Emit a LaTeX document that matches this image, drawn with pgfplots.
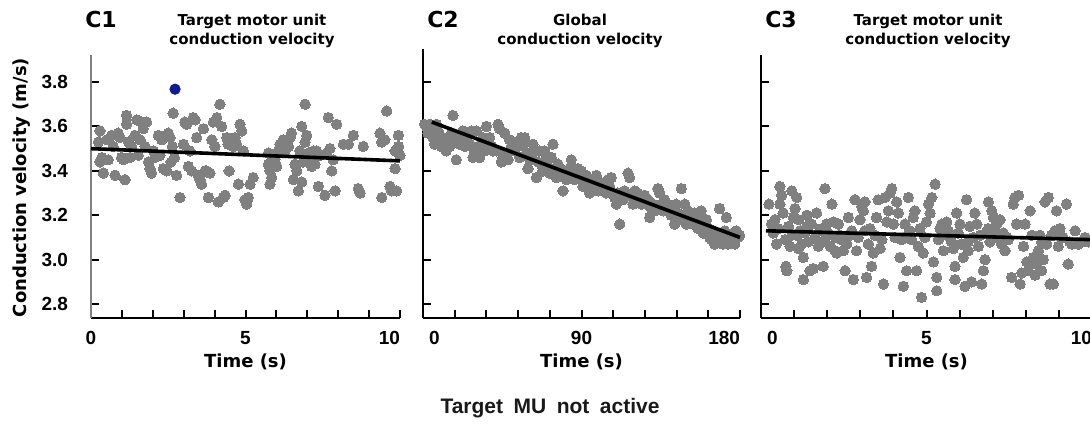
\documentclass[border=0pt]{standalone}
\usepackage{fontspec}
\setmainfont{DejaVu Sans}
\newfontfamily\libsans{Liberation Sans}
\usepackage{pgfplots}
\pgfplotsset{compat=1.18}
\definecolor{dotgray}{RGB}{128,128,128}
\definecolor{dotblue}{RGB}{16,28,140}
\pgfplotsset{
  cvpanel/.style={
    scale only axis,
    clip=false, clip marker paths=true,
    axis lines=left,
    axis line style={-, line width=1pt, black},
    tick align=inside,
    major tick length=4pt, minor tick length=4pt,
    tick style={line width=1pt, black},
    ymin=2.737,
    ytick={2.8,3.0,3.2,3.4,3.6,3.8},
    /pgf/number format/assume math mode=true,
    ticklabel style={font=\libsans\bfseries\fontsize{9.5}{11}\selectfont},
    xticklabel style={yshift=-3pt},
    yticklabel style={xshift=-8pt, /pgf/number format/fixed, /pgf/number format/fixed zerofill, /pgf/number format/precision=1},
    xlabel style={font=\bfseries\fontsize{9}{11}\selectfont, at={(axis description cs:0.5,0)}, anchor=center, yshift=-22pt},
  },
  dots/.style={only marks, mark=*, mark size=2.6pt, mark options={fill=dotgray, draw=dotgray, line width=0pt}},
  fitline/.style={black, line width=1.8pt, no marks},
}
\begin{document}
\begin{tikzpicture}
% C1: target MU, 0-10 s
\begin{axis}[cvpanel, at={(45.5pt,-159pt)}, anchor=south west,
  width=154.5pt, height=131.5pt, xmin=0, xmax=10, ymax=3.922,
  xtick={0,5,10}, xticklabels={0,5,\llap{10}}, minor x tick num=4, xlabel={Time (s)},
  y axis line style={draw=gray}]
\addplot[dots] coordinates {
(0.29,3.58) (0.24,3.53) (0.35,3.46) (0.29,3.44) (0.40,3.39) (0.56,3.45) (0.51,3.54) (0.67,3.56)
(0.72,3.51) (0.78,3.38) (0.88,3.57) (0.94,3.55) (0.99,3.46) (1.05,3.45) (1.10,3.36) (1.15,3.65)
(1.15,3.61) (1.21,3.53) (1.26,3.46) (1.32,3.51) (1.42,3.56) (1.48,3.63) (1.53,3.47) (1.59,3.54)
(1.64,3.62) (1.69,3.59) (1.75,3.51) (1.80,3.62) (1.86,3.44) (1.91,3.41) (1.96,3.39) (2.02,3.49)
(2.07,3.46) (2.18,3.56) (2.23,3.47) (2.29,3.54) (2.34,3.41) (2.45,3.40) (2.50,3.57) (2.56,3.55)
(2.59,3.44) (2.63,3.51) (2.66,3.66) (2.70,3.46) (2.77,3.38) (2.88,3.28) (2.99,3.52) (3.04,3.62)
(3.10,3.61) (3.15,3.42) (3.20,3.49) (3.26,3.40) (3.31,3.64) (3.37,3.63) (3.42,3.55) (3.47,3.38)
(3.53,3.36) (3.58,3.34) (3.64,3.59) (3.69,3.40) (3.74,3.40) (3.80,3.28) (3.85,3.39) (3.91,3.54)
(3.96,3.62) (4.01,3.51) (4.07,3.64) (4.12,3.26) (4.17,3.70) (4.23,3.60) (4.28,3.28) (4.34,3.29)
(4.39,3.55) (4.44,3.52) (4.47,3.40) (4.55,3.53) (4.61,3.51) (4.66,3.55) (4.71,3.52) (4.77,3.34)
(4.82,3.61) (4.88,3.58) (4.93,3.49) (4.98,3.27) (5.04,3.25) (5.09,3.28) (5.15,3.34) (5.25,3.37)
(5.74,3.48) (5.74,3.43) (5.79,3.40) (5.79,3.34) (5.85,3.37) (5.95,3.45) (6.01,3.42) (6.06,3.49)
(6.12,3.52) (6.17,3.50) (6.22,3.54) (6.28,3.49) (6.33,3.52) (6.39,3.51) (6.44,3.55) (6.49,3.57)
(6.55,3.36) (6.60,3.43) (6.66,3.40) (6.71,3.31) (6.76,3.49) (6.82,3.60) (6.82,3.35) (6.87,3.44)
(6.93,3.70) (6.93,3.53) (6.98,3.56) (7.03,3.48) (7.09,3.46) (7.14,3.42) (7.20,3.49) (7.25,3.43)
(7.30,3.49) (7.36,3.33) (7.41,3.47) (7.57,3.29) (7.63,3.48) (7.68,3.64) (7.73,3.50) (7.79,3.40)
(7.84,3.45) (7.90,3.31) (7.95,3.61) (8.17,3.52) (8.33,3.52) (8.49,3.56) (8.65,3.32) (8.71,3.30)
(8.81,3.51) (9.35,3.57) (9.41,3.53) (9.41,3.28) (9.51,3.54) (9.57,3.67) (9.68,3.33) (9.73,3.31)
(9.84,3.49) (9.84,3.41) (9.89,3.31) (9.95,3.56) (9.95,3.51) (10.00,3.47)
};
\addplot[only marks, mark=*, mark size=2.6pt, mark options={fill=dotblue, draw=dotblue}] coordinates {(2.72,3.768)};
\addplot[fitline] coordinates {(0,3.50) (10,3.445)};
\end{axis}
% C2: global, 0-180 s
\begin{axis}[cvpanel, at={(211.5pt,-159pt)}, anchor=south west,
  width=158.5pt, height=134.5pt, xmin=0, xmax=180, ymax=3.949,
  xtick={0,90,180}, xticklabels={\rlap{\hspace{3pt}0},90,\llap{180}}, minor x tick num=4,
  yticklabels={}, xlabel={Time (s)}]
\addplot[dots] coordinates {
(0.9,3.61) (1.9,3.60) (2.8,3.57) (3.8,3.61) (4.7,3.58) (5.7,3.55) (6.6,3.52) (7.6,3.61)
(8.5,3.58) (9.5,3.53) (10.4,3.51) (11.4,3.55) (12.3,3.52) (13.2,3.49) (14.2,3.55) (15.1,3.51)
(16.1,3.57) (17.0,3.65) (18.0,3.53) (18.9,3.45) (19.9,3.56) (20.8,3.52) (21.8,3.54) (22.7,3.58)
(23.7,3.51) (24.6,3.56) (25.6,3.57) (26.5,3.52) (27.4,3.58) (28.4,3.46) (29.3,3.49) (30.3,3.58)
(31.2,3.51) (32.2,3.46) (33.1,3.52) (34.1,3.55) (35.0,3.49) (36.0,3.60) (36.9,3.54) (37.9,3.55)
(38.8,3.51) (39.7,3.49) (41.6,3.49) (42.6,3.61) (43.5,3.59) (44.5,3.44) (45.4,3.46) (46.4,3.57)
(47.3,3.48) (48.3,3.45) (49.2,3.54) (50.2,3.51) (51.1,3.52) (52.0,3.49) (53.0,3.53) (53.9,3.51)
(54.9,3.46) (55.8,3.55) (56.8,3.52) (57.7,3.55) (58.7,3.48) (59.6,3.41) (60.6,3.45) (61.5,3.47)
(62.5,3.52) (63.4,3.49) (64.4,3.37) (65.3,3.44) (66.2,3.49) (67.2,3.43) (68.1,3.40) (69.1,3.49)
(70.0,3.46) (71.0,3.42) (71.9,3.39) (72.9,3.46) (73.8,3.52) (74.8,3.40) (75.7,3.37) (76.7,3.43)
(77.6,3.41) (78.5,3.39) (79.5,3.31) (80.4,3.40) (81.4,3.36) (83.3,3.41) (84.2,3.45) (85.2,3.38)
(86.1,3.36) (87.1,3.39) (88.0,3.41) (89.0,3.37) (89.9,3.40) (90.8,3.33) (91.8,3.36) (92.7,3.38)
(93.7,3.34) (94.6,3.30) (95.6,3.36) (96.5,3.32) (97.5,3.34) (98.4,3.38) (99.4,3.31) (100.3,3.35)
(101.3,3.33) (102.2,3.31) (103.2,3.34) (104.1,3.30) (105.0,3.36) (106.0,3.33) (106.9,3.37) (107.9,3.30)
(108.8,3.28) (109.8,3.25) (110.7,3.30) (111.7,3.16) (112.6,3.28) (113.6,3.27) (114.5,3.31) (115.5,3.29)
(116.4,3.39) (117.3,3.37) (118.3,3.29) (119.2,3.25) (120.2,3.31) (121.1,3.27) (122.1,3.30) (123.0,3.28)
(124.0,3.25) (124.9,3.28) (125.9,3.29) (126.8,3.25) (127.8,3.27) (128.7,3.19) (129.6,3.23) (130.6,3.25)
(131.5,3.22) (132.5,3.24) (133.4,3.32) (134.4,3.30) (135.3,3.25) (136.3,3.22) (137.2,3.27) (138.2,3.23)
(139.1,3.25) (140.1,3.22) (141.0,3.20) (142.0,3.22) (142.9,3.16) (143.8,3.25) (144.8,3.21) (145.7,3.18)
(146.7,3.32) (147.6,3.20) (148.6,3.25) (149.5,3.16) (150.5,3.22) (151.4,3.18) (152.4,3.19) (153.3,3.16)
(154.3,3.21) (155.2,3.18) (156.1,3.14) (157.1,3.18) (158.0,3.22) (159.0,3.12) (159.9,3.16) (160.9,3.18)
(161.8,3.14) (162.8,3.10) (163.7,3.09) (164.7,3.13) (165.6,3.07) (166.6,3.12) (167.5,3.08) (168.4,3.23)
(169.4,3.10) (170.3,3.07) (171.3,3.13) (172.2,3.19) (173.2,3.07) (174.1,3.10) (175.1,3.09) (176.0,3.12)
(177.0,3.07) (177.9,3.13) (178.9,3.10) (179.8,3.11)
};
\addplot[fitline] coordinates {(5,3.62) (180,3.10)};
\end{axis}
% C3: target MU, 0-10 s
\begin{axis}[cvpanel, at={(380.5pt,-159pt)}, anchor=south west,
  width=165.5pt, height=131.5pt, xmin=0, xmax=10, ymax=3.922,
  xtick={0,5,10}, xticklabels={\rlap{\hspace{3pt}0},5,\llap{10}}, minor x tick num=4,
  yticklabels={}, xlabel={Time (s)}]
\addplot[dots] coordinates {
(0.24,3.25) (0.32,3.16) (0.37,3.12) (0.42,3.18) (0.47,3.07) (0.52,3.14) (0.57,3.33) (0.57,3.25)
(0.62,3.29) (0.67,3.21) (0.73,3.09) (0.75,2.97) (0.78,2.95) (0.83,3.15) (0.88,3.06) (0.93,3.31)
(0.93,3.11) (0.98,3.19) (1.03,3.23) (1.08,3.28) (1.08,3.11) (1.13,3.18) (1.13,3.05) (1.18,3.13)
(1.23,3.07) (1.28,2.91) (1.28,3.01) (1.33,3.12) (1.38,3.15) (1.38,3.20) (1.43,3.08) (1.48,2.95)
(1.53,3.16) (1.58,2.96) (1.63,3.10) (1.68,3.21) (1.73,3.06) (1.78,3.13) (1.83,3.14) (1.83,3.08)
(1.88,2.97) (1.93,3.32) (1.93,3.09) (1.98,3.16) (2.03,3.12) (2.09,3.06) (2.14,3.25) (2.19,3.17)
(2.24,3.10) (2.24,3.04) (2.29,3.03) (2.34,3.16) (2.39,3.11) (2.44,3.09) (2.49,3.04) (2.54,2.95)
(2.59,3.07) (2.64,3.19) (2.69,3.11) (2.74,3.13) (2.79,2.91) (2.84,3.27) (2.89,3.04) (2.94,3.10)
(2.99,3.18) (3.04,3.24) (3.09,3.22) (3.14,3.26) (3.14,3.13) (3.19,2.92) (3.24,3.07) (3.29,3.14)
(3.34,2.97) (3.39,3.03) (3.44,3.11) (3.49,3.19) (3.54,3.27) (3.60,3.05) (3.65,3.09) (3.70,2.89)
(3.75,3.28) (3.80,3.17) (3.85,3.22) (3.90,3.30) (3.95,3.32) (4.00,3.16) (4.05,3.10) (4.10,3.26)
(4.15,3.21) (4.20,3.01) (4.25,3.09) (4.30,2.88) (4.35,3.16) (4.35,3.10) (4.40,2.95) (4.45,3.28)
(4.50,3.13) (4.55,3.09) (4.60,3.19) (4.65,3.22) (4.70,2.95) (4.75,3.06) (4.80,3.14) (4.85,2.83)
(4.90,3.03) (4.95,3.10) (5.00,3.17) (5.06,3.25) (5.11,3.21) (5.16,3.28) (5.21,2.99) (5.26,3.34)
(5.31,2.92) (5.31,2.86) (5.36,3.09) (5.41,3.14) (5.46,3.16) (5.46,3.11) (5.51,3.04) (5.56,3.12)
(5.61,3.17) (5.66,3.13) (5.71,3.10) (5.76,3.08) (5.81,3.05) (5.86,2.97) (5.86,2.91) (5.91,3.21)
(5.96,3.12) (6.01,3.16) (6.06,3.07) (6.11,3.01) (6.16,2.88) (6.21,3.27) (6.26,3.08) (6.26,3.04)
(6.31,3.15) (6.36,2.90) (6.41,3.10) (6.46,3.21) (6.52,3.16) (6.57,3.06) (6.62,3.11) (6.67,2.89)
(6.72,2.95) (6.77,3.00) (6.82,3.13) (6.87,3.26) (6.87,3.14) (6.92,3.08) (6.97,3.22) (7.02,3.19)
(7.07,3.13) (7.07,3.10) (7.12,3.16) (7.17,3.10) (7.22,3.18) (7.27,3.07) (7.32,3.12) (7.37,3.04)
(7.42,3.10) (7.47,3.09) (7.57,2.92) (7.62,3.25) (7.67,3.28) (7.72,3.16) (7.78,3.29) (7.83,2.89)
(7.88,2.94) (7.93,3.06) (7.98,3.16) (8.03,2.99) (8.08,2.95) (8.13,3.22) (8.18,3.11) (8.23,3.01)
(8.28,2.93) (8.33,2.98) (8.38,3.04) (8.43,3.11) (8.48,2.95) (8.48,3.08) (8.53,3.00) (8.58,3.26)
(8.63,3.07) (8.68,3.28) (8.73,2.89) (8.78,3.11) (8.83,2.89) (8.83,3.11) (8.88,3.13) (8.93,3.22)
(8.98,3.06) (9.03,3.14) (9.13,3.10) (9.23,3.25) (9.28,2.98) (9.33,3.08) (9.39,3.07) (9.49,3.13)
(9.59,3.07) (9.69,3.08) (9.79,3.10) (9.89,3.08)
};
\addplot[fitline] coordinates {(0.15,3.13) (10,3.09)};
\end{axis}
% panel letters, titles, shared labels
\node[rotate=90, font=\bfseries\fontsize{9}{11}\selectfont] at (11pt,-93.75pt) {Conduction velocity (m/s)};
\node[font=\bfseries\fontsize{11}{13}\selectfont] at (50.5pt,-9.5pt) {C1};
\node[font=\bfseries\fontsize{11}{13}\selectfont] at (221.5pt,-9.5pt) {C2};
\node[font=\bfseries\fontsize{11}{13}\selectfont] at (390.5pt,-9.5pt) {C3};
\node[font=\bfseries\fontsize{7.5}{9.5}\selectfont, align=center] at (126pt,-15.5pt) {Target motor unit\\conduction velocity};
\node[font=\bfseries\fontsize{7.5}{9.5}\selectfont, align=center] at (290pt,-15.5pt) {Global\\conduction velocity};
\node[font=\bfseries\fontsize{7.5}{9.5}\selectfont, align=center] at (464pt,-15.5pt) {Target motor unit\\conduction velocity};
\node[font=\libsans\bfseries\fontsize{10.5}{12}\selectfont, text=black!90] at (275pt,-204pt) {Target\hspace{0.5em}MU\hspace{0.5em}not\hspace{0.5em}active};
\pgfresetboundingbox
\useasboundingbox (0pt,0pt) rectangle (545pt,-216.5pt);
\end{tikzpicture}
\end{document}
